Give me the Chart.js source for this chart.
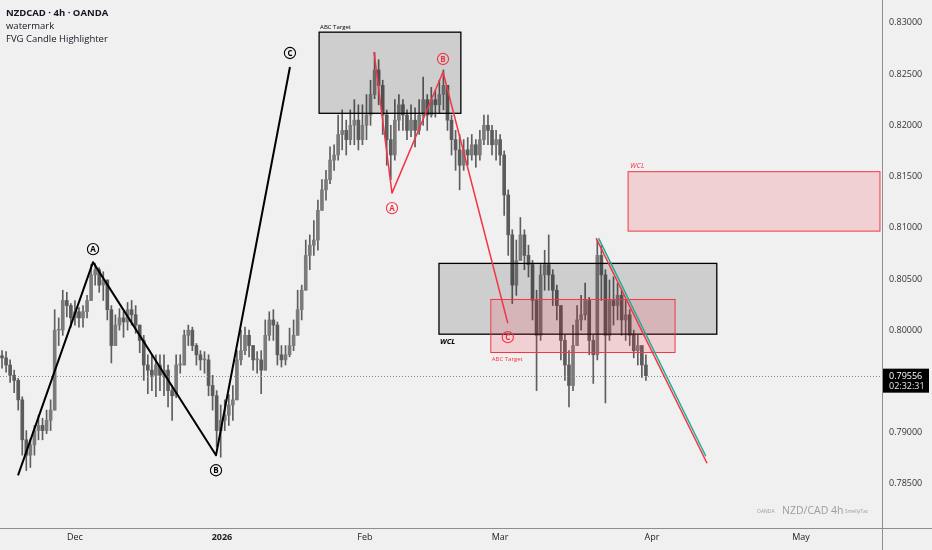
<!DOCTYPE html>
<html>
<head>
<meta charset="utf-8">
<script src="https://cdn.jsdelivr.net/npm/chart.js@4.4.1/dist/chart.umd.min.js"></script>
<style>
  html, body { margin: 0; padding: 0; background: #f0f0f0; }
  #wrap { width: 932px; height: 550px; position: relative; }
</style>
</head>
<body>
<div id="wrap"><canvas id="chart"></canvas></div>
<script>
// NZDCAD candles (one candle per ~half trading day)
const firstOpen = 0.7975;
const highs = [
  0.7980, 0.7979, 0.7971, 0.7961, 0.7953, 0.7935, 0.7902, 0.7894, 0.7907, 0.7917,
  0.7914, 0.7922, 0.7932, 0.8020, 0.8012, 0.8039, 0.8037, 0.8026, 0.8029, 0.8022,
  0.8024, 0.8034, 0.8064, 0.8065, 0.8061, 0.8057, 0.8049, 0.8024, 0.8015, 0.8021,
  0.8018, 0.8027, 0.8029, 0.8024, 0.8005, 0.7995, 0.7976, 0.7976, 0.7976, 0.7976,
  0.7976, 0.7966, 0.7946, 0.7976, 0.7976, 0.8000, 0.8005, 0.8003, 0.7987, 0.7980,
  0.7979, 0.7976, 0.7956, 0.7941, 0.7927, 0.7932, 0.7937, 0.7946, 0.7980, 0.8000,
  0.8003, 0.8000, 0.7985, 0.7979, 0.7980, 0.8010, 0.8018, 0.8020, 0.8008, 0.7985,
  0.7985, 0.8002, 0.8010, 0.8039, 0.8044, 0.8088, 0.8093, 0.8107, 0.8127, 0.8147,
  0.8156, 0.8179, 0.8181, 0.8210, 0.8215, 0.8205, 0.8215, 0.8225, 0.8220, 0.8220,
  0.8230, 0.8244, 0.8271, 0.8264, 0.8244, 0.8215, 0.8200, 0.8225, 0.8230, 0.8225,
  0.8215, 0.8220, 0.8217, 0.8225, 0.8247, 0.8230, 0.8237, 0.8234, 0.8244, 0.8254,
  0.8239, 0.8210, 0.8195, 0.8191, 0.8186, 0.8188, 0.8191, 0.8186, 0.8195, 0.8210,
  0.8210, 0.8200, 0.8195, 0.8191, 0.8175, 0.8137, 0.8098, 0.8088, 0.8110, 0.8098,
  0.8083, 0.8068, 0.8039, 0.8064, 0.8078, 0.8093, 0.8059, 0.8044, 0.8024, 0.7995,
  0.7980, 0.8005, 0.8024, 0.8034, 0.8046, 0.8032, 0.7995, 0.8088, 0.8083, 0.8059,
  0.8049, 0.8052, 0.8046, 0.8039, 0.8029, 0.8020, 0.8000, 0.7995, 0.7985, 0.7976
];
const lows = [
  0.7963, 0.7959, 0.7949, 0.7939, 0.7922, 0.7878, 0.7863, 0.7866, 0.7878, 0.7893,
  0.7893, 0.7899, 0.7902, 0.7922, 0.7985, 0.7995, 0.8013, 0.8003, 0.8005, 0.8003,
  0.8003, 0.8012, 0.8029, 0.8044, 0.8037, 0.8029, 0.8010, 0.7968, 0.7985, 0.8000,
  0.7993, 0.8000, 0.8005, 0.7997, 0.7978, 0.7951, 0.7938, 0.7941, 0.7935, 0.7941,
  0.7936, 0.7925, 0.7912, 0.7934, 0.7958, 0.7966, 0.7985, 0.7980, 0.7966, 0.7961,
  0.7958, 0.7936, 0.7922, 0.7886, 0.7876, 0.7902, 0.7907, 0.7912, 0.7932, 0.7966,
  0.7976, 0.7974, 0.7961, 0.7958, 0.7938, 0.7961, 0.7990, 0.7990, 0.7966, 0.7964,
  0.7966, 0.7974, 0.7980, 0.7995, 0.8010, 0.8039, 0.8059, 0.8073, 0.8078, 0.8117,
  0.8127, 0.8143, 0.8156, 0.8166, 0.8176, 0.8171, 0.8181, 0.8181, 0.8176, 0.8181,
  0.8186, 0.8200, 0.8226, 0.8220, 0.8191, 0.8161, 0.8147, 0.8166, 0.8195, 0.8195,
  0.8186, 0.8189, 0.8179, 0.8191, 0.8200, 0.8195, 0.8208, 0.8208, 0.8212, 0.8215,
  0.8195, 0.8171, 0.8156, 0.8137, 0.8156, 0.8161, 0.8166, 0.8159, 0.8166, 0.8181,
  0.8181, 0.8171, 0.8166, 0.8161, 0.8112, 0.8073, 0.8026, 0.8034, 0.8068, 0.8059,
  0.8052, 0.8010, 0.7941, 0.7990, 0.8039, 0.8039, 0.8024, 0.8010, 0.7971, 0.7951,
  0.7925, 0.7941, 0.7985, 0.8000, 0.8010, 0.7976, 0.7948, 0.7971, 0.8029, 0.7929,
  0.7990, 0.8005, 0.8010, 0.7995, 0.7990, 0.7985, 0.7973, 0.7966, 0.7954, 0.7951
];
const closes = [
  0.7973, 0.7966, 0.7956, 0.7951, 0.7932, 0.7893, 0.7878, 0.7888, 0.7902, 0.7907,
  0.7902, 0.7912, 0.7922, 0.8000, 0.8000, 0.8029, 0.8024, 0.8012, 0.8018, 0.8012,
  0.8018, 0.8029, 0.8054, 0.8059, 0.8044, 0.8049, 0.8020, 0.7985, 0.8005, 0.8012,
  0.8008, 0.8020, 0.8015, 0.8005, 0.7990, 0.7966, 0.7961, 0.7956, 0.7966, 0.7956,
  0.7961, 0.7941, 0.7936, 0.7966, 0.7966, 0.7995, 0.8000, 0.7985, 0.7976, 0.7971,
  0.7971, 0.7946, 0.7936, 0.7902, 0.7912, 0.7917, 0.7927, 0.7932, 0.7971, 0.7980,
  0.7995, 0.7985, 0.7971, 0.7971, 0.7961, 0.7995, 0.8010, 0.8005, 0.7976, 0.7971,
  0.7976, 0.7985, 0.7995, 0.8020, 0.8039, 0.8073, 0.8083, 0.8088, 0.8117, 0.8137,
  0.8147, 0.8166, 0.8171, 0.8191, 0.8195, 0.8186, 0.8200, 0.8205, 0.8186, 0.8200,
  0.8210, 0.8230, 0.8254, 0.8239, 0.8210, 0.8186, 0.8171, 0.8205, 0.8220, 0.8210,
  0.8195, 0.8205, 0.8195, 0.8210, 0.8225, 0.8210, 0.8225, 0.8220, 0.8230, 0.8239,
  0.8205, 0.8186, 0.8176, 0.8161, 0.8176, 0.8171, 0.8181, 0.8171, 0.8186, 0.8200,
  0.8195, 0.8181, 0.8186, 0.8171, 0.8132, 0.8093, 0.8044, 0.8068, 0.8093, 0.8073,
  0.8064, 0.8029, 0.7995, 0.8054, 0.8064, 0.8054, 0.8039, 0.8024, 0.7990, 0.7966,
  0.7946, 0.7985, 0.8010, 0.8015, 0.8029, 0.7990, 0.7976, 0.8073, 0.8054, 0.7995,
  0.8029, 0.8024, 0.8034, 0.8010, 0.8015, 0.7995, 0.7980, 0.7985, 0.7966, 0.79556
];

// axes
const priceTicks = [0.785, 0.790, 0.795, 0.800, 0.805, 0.810, 0.815, 0.820, 0.825, 0.830];
const monthLabels = ['Dec', '2026', 'Feb', 'Mar', 'Apr', 'May'];
const monthPos = [18.0, 54.3, 89.6, 123.0, 160.5, 197.3];
const countdown = '02:32:31';

// drawings, as [candle index, price]
const waveABC = [[3.95, 0.78583], [22.47, 0.80664], [52.84, 0.78779], [71.1, 0.82569]];
const waveRed = [[91.85, 0.82716], [96.3, 0.81338], [108.9, 0.82520], [124.9, 0.80068]];
const waveLetters = ['A', 'B', 'C'];
// boxes: [from index, to index, top price, bottom price]
const abcTargetBox = [78.3, 113.3, 0.82909, 0.82117];
const wclBox = [107.9, 176.5, 0.80652, 0.79961];
const abcTargetRedBox = [120.7, 166.2, 0.80300, 0.79782];
const wclRedBox = [154.6, 216.8, 0.81547, 0.80967];
const trendRed = [[146.7, 0.80899], [174.1, 0.78701]];
const trendGreen = [[147.3, 0.80899], [173.8, 0.78769]];

const RED = '#f23645';
const GREEN = '#22ab94';
const FONT = '"Open Sans", "Noto Sans", sans-serif';

const opens = closes.map((c, i) => i === 0 ? firstOpen : closes[i - 1]);
const wickData = closes.map((c, i) => ({ x: i, y: [lows[i], highs[i]] }));
const bodyData = closes.map((c, i) => ({ x: i, y: [Math.min(opens[i], c), Math.max(opens[i], c)] }));
const isUp = i => closes[i] >= opens[i];

function toPx(chart, p) {
    return [chart.scales.x.getPixelForValue(p[0]), chart.scales.y.getPixelForValue(p[1])];
}

function drawPath(ctx, chart, pts, color, width) {
    ctx.beginPath();
    pts.forEach((p, i) => {
        const [x, y] = toPx(chart, p);
        if (i === 0) ctx.moveTo(x, y); else ctx.lineTo(x, y);
    });
    ctx.strokeStyle = color;
    ctx.lineWidth = width;
    ctx.lineJoin = 'round';
    ctx.stroke();
}

function drawBox(ctx, chart, b, fill, stroke, width) {
    const [x0, y0] = toPx(chart, [b[0], b[2]]);
    const [x1, y1] = toPx(chart, [b[1], b[3]]);
    ctx.fillStyle = fill;
    ctx.fillRect(x0, y0, x1 - x0, y1 - y0);
    ctx.strokeStyle = stroke;
    ctx.lineWidth = width;
    ctx.strokeRect(x0, y0, x1 - x0, y1 - y0);
    return [x0, y0, x1, y1];
}

function circled(ctx, x, y, letter, color) {
    ctx.beginPath();
    ctx.arc(x, y, 5.6, 0, Math.PI * 2);
    ctx.strokeStyle = color;
    ctx.lineWidth = 1.1;
    ctx.stroke();
    ctx.fillStyle = color;
    ctx.font = 'bold 8px ' + FONT;
    ctx.textAlign = 'center';
    ctx.textBaseline = 'middle';
    ctx.fillText(letter, x, y + 0.5);
}

const drawings = {
    id: 'drawings',
    afterDatasetsDraw(chart) {
        const ctx = chart.ctx;
        const area = chart.chartArea;
        ctx.save();
        ctx.beginPath();
        ctx.rect(area.left, area.top, area.right - area.left, area.bottom - area.top);
        ctx.clip();

        // last price line
        const yLast = chart.scales.y.getPixelForValue(closes[closes.length - 1]);
        ctx.setLineDash([1, 2]);
        ctx.strokeStyle = '#8a8a8a';
        ctx.lineWidth = 1;
        ctx.beginPath();
        ctx.moveTo(area.left, Math.round(yLast) + 0.5);
        ctx.lineTo(area.right, Math.round(yLast) + 0.5);
        ctx.stroke();
        ctx.setLineDash([]);

        // boxes
        const b1 = drawBox(ctx, chart, abcTargetBox, 'rgba(0,0,0,0.14)', '#000', 1.3);
        const b2 = drawBox(ctx, chart, wclBox, 'rgba(0,0,0,0.14)', '#000', 1.3);
        const b3 = drawBox(ctx, chart, abcTargetRedBox, 'rgba(242,54,69,0.17)', RED, 1);
        const b4 = drawBox(ctx, chart, wclRedBox, 'rgba(242,54,69,0.17)', RED, 1);

        ctx.textAlign = 'left';
        ctx.textBaseline = 'alphabetic';
        ctx.fillStyle = '#000';
        ctx.font = '6px ' + FONT;
        ctx.fillText('ABC Target', b1[0] + 1, b1[1] - 3);
        ctx.fillStyle = RED;
        ctx.fillText('ABC Target', b3[0] + 1, b3[3] + 8);
        ctx.font = 'italic bold 7.5px ' + FONT;
        ctx.fillStyle = '#000';
        ctx.fillText('WCL', b2[0] + 1, b2[3] + 10);
        ctx.font = 'italic 7.5px ' + FONT;
        ctx.fillStyle = RED;
        ctx.fillText('WCL', b4[0] + 2, b4[1] - 4);

        // wave lines
        drawPath(ctx, chart, waveABC, '#000', 2);
        drawPath(ctx, chart, waveRed, RED, 1.5);
        drawPath(ctx, chart, trendRed, RED, 1.5);
        drawPath(ctx, chart, trendGreen, GREEN, 1.5);

        const blackOff = [-13, 15, -14];
        const redOff = [15, -13, 14];
        waveLetters.forEach((l, i) => {
            const [x, y] = toPx(chart, waveABC[i + 1]);
            circled(ctx, x, y + blackOff[i], l, '#000');
            const [rx, ry] = toPx(chart, waveRed[i + 1]);
            circled(ctx, rx, ry + redOff[i], l, RED);
        });
        ctx.restore();
    },
    afterDraw(chart) {
        const ctx = chart.ctx;
        const area = chart.chartArea;
        ctx.save();
        // axis lines
        ctx.strokeStyle = '#8e8e8e';
        ctx.lineWidth = 1;
        ctx.beginPath();
        ctx.moveTo(Math.round(area.right) + 0.5, 0);
        ctx.lineTo(Math.round(area.right) + 0.5, chart.height);
        ctx.moveTo(0, Math.round(area.bottom) + 0.5);
        ctx.lineTo(chart.width, Math.round(area.bottom) + 0.5);
        ctx.stroke();

        // last price tag
        const last = closes[closes.length - 1];
        const yLast = chart.scales.y.getPixelForValue(last);
        ctx.fillStyle = '#000';
        ctx.fillRect(area.right + 1, yLast - 7, 46, 24);
        ctx.fillStyle = '#fff';
        ctx.font = '9px ' + FONT;
        ctx.textAlign = 'left';
        ctx.textBaseline = 'middle';
        ctx.fillText(last.toFixed(5), area.right + 7, yLast + 0.5);
        ctx.fillStyle = '#e6e6e6';
        ctx.fillText(countdown, area.right + 7, yLast + 11);

        // legend text top left
        ctx.fillStyle = '#131722';
        ctx.textBaseline = 'middle';
        ctx.font = 'bold 9.5px ' + FONT;
        ctx.fillText('NZDCAD · 4h · OANDA', 6, 13);
        ctx.font = '9.5px ' + FONT;
        ctx.fillText('watermark', 6, 26);
        ctx.fillText('FVG Candle Highlighter', 6, 39);

        // watermark bottom right
        ctx.fillStyle = '#9c9c9c';
        ctx.font = '5px ' + FONT;
        ctx.fillText('OANDA', 757, 512);
        ctx.font = '10.5px ' + FONT;
        ctx.fillText('NZD/CAD 4h', 782, 511);
        ctx.font = '5px ' + FONT;
        ctx.fillText('SmellyTaz', 845, 512);
        ctx.restore();
    }
};

const chart = new Chart(document.getElementById('chart'), {
    type: 'bar',
    data: {
        datasets: [
            {
                label: 'wick',
                data: wickData,
                barThickness: 1,
                backgroundColor: '#5e5e5e',
                grouped: false,
                order: 2
            },
            {
                label: 'body',
                data: bodyData,
                barThickness: 3,
                minBarLength: 1,
                backgroundColor: ctx => isUp(ctx.dataIndex) ? '#7b7b7b' : '#5c5c5c',
                grouped: false,
                order: 1
            }
        ]
    },
    options: {
        responsive: true,
        maintainAspectRatio: false,
        animation: false,
        layout: { padding: 0 },
        plugins: { legend: { display: false }, tooltip: { enabled: false } },
        scales: {
            x: {
                type: 'linear',
                min: -0.5,
                max: 217.3,
                offset: false,
                grid: { display: false, drawTicks: false },
                border: { display: false },
                afterBuildTicks: s => { s.ticks = monthPos.map(v => ({ value: v })); },
                afterFit: s => { s.height = 22; s.paddingLeft = 0; s.paddingRight = 0; },
                ticks: {
                    autoSkip: false,
                    maxRotation: 0,
                    padding: 4,
                    color: '#222',
                    font: ctx => ({
                        family: FONT,
                        size: 9,
                        weight: ctx.tick && ctx.tick.label === '2026' ? 'bold' : 'normal'
                    }),
                    callback: (v, i) => monthLabels[i]
                }
            },
            y: {
                position: 'right',
                min: 0.78069,
                max: 0.83223,
                grid: { display: false, drawTicks: false },
                border: { display: false },
                afterBuildTicks: s => { s.ticks = priceTicks.map(v => ({ value: v })); },
                afterFit: s => { s.width = 50; s.paddingTop = 0; s.paddingBottom = 0; },
                ticks: {
                    padding: 7,
                    color: '#333',
                    font: { family: FONT, size: 9 },
                    callback: v => v.toFixed(5)
                }
            }
        }
    },
    plugins: [drawings]
});
</script>
</body>
</html>
